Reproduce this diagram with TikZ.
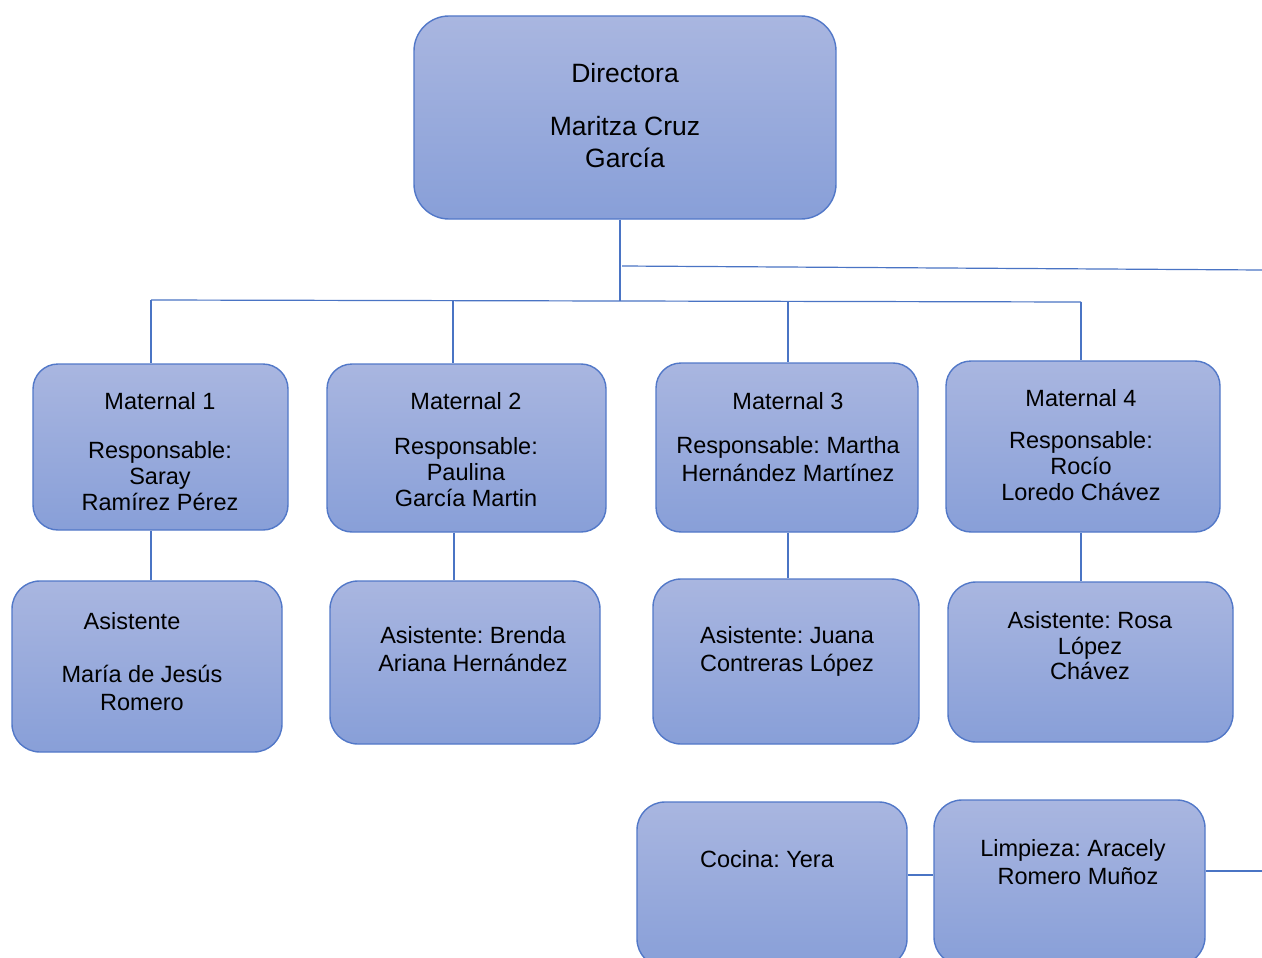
\documentclass[tikz,border=0pt]{standalone}
\usepackage{fontspec}
\setmainfont{Liberation Sans}
\frenchspacing
\definecolor{boxtop}{HTML}{A9B6E0}
\definecolor{boxbot}{HTML}{889FD8}
\definecolor{boxline}{HTML}{5278C8}
\definecolor{conline}{HTML}{4A74C4}
\tikzset{
  orgbox/.style={draw=boxline, line width=1.4pt, top color=boxtop, bottom color=boxbot,
    inner sep=0pt, rounded corners=25pt},
  txt/.style={anchor=north, align=center, inner sep=0pt, text=black},
  conn/.style={draw=conline, line width=1.2pt}
}
\begin{document}
\begin{tikzpicture}[x=1pt,y=-1pt]
\useasboundingbox (0,0) rectangle (1262,958);
\clip (0,0) rectangle (1262,958);
\fill[white] (0,0) rectangle (1262,958);

% boxes
\node[orgbox, rounded corners=35pt, minimum width=422pt, minimum height=203pt] (dir) at (625,117.5) {};
\node[orgbox, minimum width=255pt, minimum height=166pt] (m1) at (160.5,447) {};
\node[orgbox, minimum width=279pt, minimum height=168pt] (m2) at (466.5,448) {};
\node[orgbox, minimum width=262pt, minimum height=169pt] (m3) at (787,447.5) {};
\node[orgbox, minimum width=274pt, minimum height=171pt] (m4) at (1083,446.5) {};
\node[orgbox, rounded corners=28pt, minimum width=270pt, minimum height=171pt] (a1) at (147,666.5) {};
\node[orgbox, rounded corners=28pt, minimum width=270pt, minimum height=163pt] (a2) at (465,662.5) {};
\node[orgbox, rounded corners=28pt, minimum width=266pt, minimum height=165pt] (a3) at (786,661.5) {};
\node[orgbox, rounded corners=28pt, minimum width=285pt, minimum height=160pt] (a4) at (1090.5,662) {};
\node[orgbox, rounded corners=28pt, minimum width=270pt, minimum height=165pt] (co) at (772,884.5) {};
\node[orgbox, rounded corners=28pt, minimum width=271pt, minimum height=165pt] (li) at (1069.5,882.5) {};

% texts
\node[txt, font=\fontsize{26.5}{32}\selectfont] (dirt) at (625,63.5)
  {Directora\\[21pt]Maritza Cruz\\García};
\node[txt, font=\fontsize{23.5}{26}\selectfont] (m1t) at (160,392.6)
  {Maternal 1\\[23pt]Responsable:\\Saray\\Ramírez Pérez};
\node[txt, font=\fontsize{23.5}{26}\selectfont] (m2t) at (466,392.6)
  {Maternal 2\\[19pt]Responsable:\\Paulina\\García Martin};
\node[txt, font=\fontsize{23.5}{28}\selectfont] (m3t) at (788,392.6)
  {Maternal 3\\[16pt]Responsable: Martha\\Hernández Martínez};
\node[txt, font=\fontsize{23.5}{26}\selectfont] (m4t) at (1081,389.6)
  {Maternal 4\\[16pt]Responsable:\\Rocío\\Loredo Chávez};
\node[txt, font=\fontsize{23.5}{28}\selectfont] (a1t) at (142,612.6)
  {Asistente\hspace*{20pt}\\[25pt]María de Jesús\\Romero};
\node[txt, font=\fontsize{23.5}{28}\selectfont] (a2t) at (473,626.6)
  {Asistente: Brenda\\Ariana Hernández};
\node[txt, font=\fontsize{23.5}{28}\selectfont] (a3t) at (787,626.6)
  {Asistente: Juana\\Contreras López};
\node[txt, font=\fontsize{23.5}{25.5}\selectfont] (a4t) at (1090,611.6)
  {Asistente: Rosa\\López\\Chávez};
\node[txt, font=\fontsize{23.5}{28}\selectfont] (cot) at (767,850.6)
  {Cocina: Yera};
\node[txt, font=\fontsize{23.5}{28}\selectfont] (lit) at (1073,839.6)
  {Limpieza: Aracely\\\hspace*{10pt}Romero Muñoz};

% connector points
\coordinate (j) at (620,301);
\coordinate (b1) at (151,300);
\coordinate (b2) at (453,301);
\coordinate (b3) at (788,301);
\coordinate (b4) at (1081,302);
\coordinate (s1) at (622,266);
\coordinate (s2) at (1262,270);
\coordinate (cl) at (920,875);
\coordinate (le) at (1262,871);

% connectors
\draw[conn] (dir.south -| j) -- (j);
\draw[conn] (b1) -- (j) -- (b4);
\draw[conn] (s1) -- (s2);
\draw[conn] (b1) -- (b1 |- m1.north);
\draw[conn] (b2) -- (b2 |- m2.north);
\draw[conn] (b3) -- (b3 |- m3.north);
\draw[conn] (b4) -- (b4 |- m4.north);
\draw[conn] (m1.south -| b1) -- (a1.north -| b1);
\draw[conn] ([xshift=1pt]m2.south -| b2) -- ([xshift=1pt]a2.north -| b2);
\draw[conn] (m3.south -| b3) -- (a3.north -| b3);
\draw[conn] (m4.south -| b4) -- (a4.north -| b4);
\draw[conn] (co.east |- cl) -- (li.west |- cl);
\draw[conn] (li.east |- le) -- (le);
\end{tikzpicture}
\end{document}
